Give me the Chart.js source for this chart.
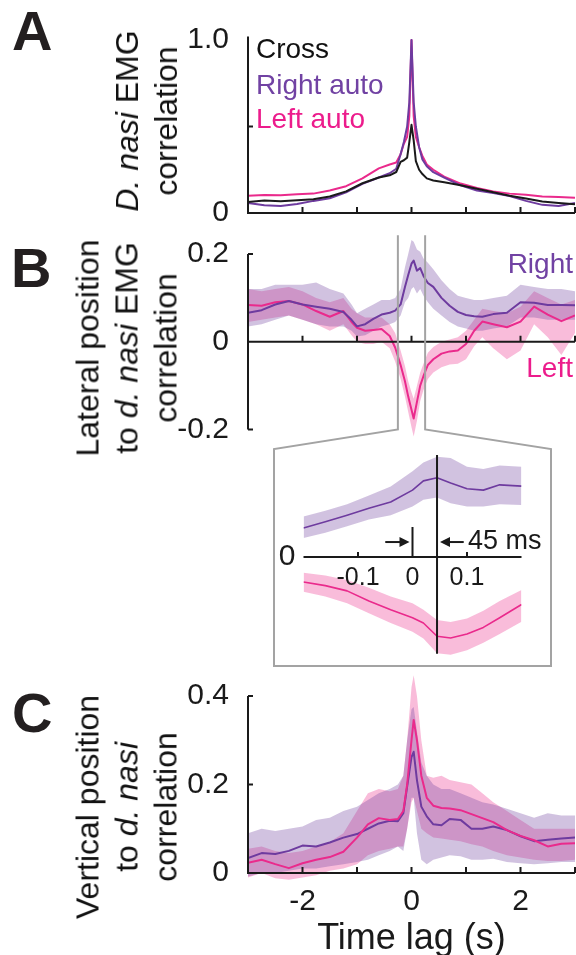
<!DOCTYPE html>
<html>
<head>
<meta charset="utf-8">
<script src="https://cdn.jsdelivr.net/npm/chart.js@4.4.1/dist/chart.umd.min.js"></script>
<style>
  body { margin: 0; background: #fff; }
  #fig { position: relative; width: 576px; height: 955px; overflow: hidden;
         font-family: 'Liberation Sans', Arial, sans-serif; color: #111; }
  canvas { position: absolute; }
  .panel { position: absolute; font-weight: bold; font-size: 56px; line-height: 56px; color: #231f20; }
  .ylab { position: absolute; font-size: 32px; line-height: 39px; text-align: center;
          white-space: nowrap; transform: translate(-50%, -50%) rotate(-90deg); }
  .key { position: absolute; font-size: 28px; line-height: 28px; white-space: nowrap; }
</style>
</head>
<body>
<div id="fig">
  <canvas id="chartA" width="576" height="240" style="left:0;top:0"></canvas>
  <canvas id="chartB" width="576" height="460" style="left:0;top:210px"></canvas>
  <canvas id="chartIn" width="277" height="218" style="left:274px;top:449px"></canvas>
  <canvas id="chartC" width="576" height="310" style="left:0;top:645px"></canvas>

  <div class="panel" style="left:12px;top:3px">A</div>
  <div class="panel" style="left:11px;top:240px">B</div>
  <div class="panel" style="left:12px;top:685px">C</div>

  <div class="ylab" style="left:147px;top:121px"><div><i>D. nasi</i> EMG</div><div>correlation</div></div>
  <div class="ylab" style="left:127px;top:348px"><div>Lateral position</div><div>to <i>d. nasi</i> EMG</div><div>correlation</div></div>
  <div class="ylab" style="left:127px;top:807px"><div>Vertical position</div><div>to <i>d. nasi</i></div><div>correlation</div></div>

  <div class="key" style="left:256px;top:35px;color:#111">Cross</div>
  <div class="key" style="left:256px;top:71px;color:#7142a3">Right auto</div>
  <div class="key" style="left:256px;top:105px;color:#ec1c8c">Left auto</div>
  <div class="key" style="right:3px;top:250px;color:#7142a3">Right</div>
  <div class="key" style="right:3px;top:354px;color:#ec1c8c">Left</div>
</div>

<script>
// ---------- data ----------
const xTicks = [-3, -2, -1, 0, 1, 2, 3];
const xLabelsC = ['', '-2', '', '0', '', '2', ''];
const xTitle = 'Time lag (s)';

// A: D. nasi EMG correlations
const lagA = [-3, -2.7, -2.4, -2.1, -1.8, -1.5, -1.2, -0.9, -0.6, -0.4, -0.28, -0.2, -0.14, -0.08, -0.04, 0,
              0.04, 0.08, 0.14, 0.2, 0.28, 0.4, 0.6, 0.9, 1.2, 1.5, 1.8, 2.1, 2.4, 2.7, 3];
const crossA = [0.064, 0.072, 0.068, 0.073, 0.08, 0.095, 0.125, 0.172, 0.205, 0.218, 0.237, 0.296, 0.305, 0.32, 0.41, 0.51,
                0.42, 0.3, 0.25, 0.225, 0.2, 0.188, 0.178, 0.16, 0.14, 0.12, 0.1, 0.084, 0.066, 0.058, 0.05];
const rightA = [0.058, 0.045, 0.04, 0.052, 0.07, 0.085, 0.12, 0.168, 0.205, 0.23, 0.256, 0.34, 0.41, 0.5, 0.64, 1.0,
                0.64, 0.5, 0.38, 0.31, 0.27, 0.236, 0.205, 0.16, 0.13, 0.115, 0.098, 0.07, 0.047, 0.04, 0.058];
const leftA = [0.1, 0.104, 0.102, 0.108, 0.112, 0.13, 0.155, 0.2, 0.258, 0.28, 0.292, 0.34, 0.4, 0.44, 0.56, 1.0,
               0.56, 0.44, 0.38, 0.33, 0.28, 0.25, 0.21, 0.17, 0.145, 0.125, 0.112, 0.106, 0.096, 0.092, 0.088];
const yTicksA = [0, 1];
const yLabelsA = ['0', '1.0'];

// B: lateral position vs EMG
const lagB = [-3, -2.75, -2.5, -2.25, -2, -1.75, -1.5, -1.25, -1.1, -1, -0.85, -0.7, -0.55, -0.4, -0.3, -0.2, -0.12, -0.06, 0,
              0.04, 0.1, 0.16, 0.22, 0.3, 0.4, 0.55, 0.7, 0.85, 1, 1.15, 1.3, 1.5, 1.75, 2, 2.25, 2.5, 2.75, 3];
const rightB = [0.066, 0.072, 0.085, 0.093, 0.085, 0.08, 0.075, 0.068, 0.05, 0.035, 0.04, 0.052, 0.062, 0.066, 0.071, 0.085, 0.125, 0.152, 0.178,
                0.185, 0.162, 0.168, 0.15, 0.134, 0.125, 0.1, 0.082, 0.068, 0.061, 0.058, 0.057, 0.063, 0.066, 0.09, 0.089, 0.084, 0.084, 0.083];
const rightBHi = [0.12, 0.12, 0.13, 0.13, 0.13, 0.135, 0.12, 0.11, 0.085, 0.065, 0.075, 0.085, 0.095, 0.095, 0.1, 0.12, 0.17, 0.2, 0.232,
                  0.228, 0.21, 0.205, 0.19, 0.18, 0.165, 0.14, 0.12, 0.105, 0.1, 0.095, 0.095, 0.1, 0.105, 0.13, 0.125, 0.12, 0.12, 0.115];
const rightBLo = [0.035, 0.04, 0.05, 0.06, 0.05, 0.04, 0.035, 0.035, 0.025, 0.012, 0.015, 0.025, 0.035, 0.04, 0.045, 0.06, 0.09, 0.1, 0.12,
                  0.125, 0.11, 0.12, 0.105, 0.09, 0.075, 0.06, 0.045, 0.035, 0.03, 0.025, 0.025, 0.03, 0.035, 0.055, 0.055, 0.05, 0.05, 0.05];
const leftB = [0.084, 0.082, 0.09, 0.093, 0.085, 0.07, 0.057, 0.07, 0.045, 0.032, 0.025, 0.027, 0.029, 0.013, -0.013, -0.053, -0.09, -0.125, -0.155,
               -0.175, -0.137, -0.1, -0.078, -0.053, -0.04, -0.027, -0.022, -0.02, -0.005, 0.025, 0.046, 0.04, 0.033, 0.046, 0.08, 0.062, 0.047, 0.06];
const leftBHi = [0.12, 0.115, 0.12, 0.125, 0.115, 0.1, 0.09, 0.1, 0.075, 0.065, 0.055, 0.055, 0.055, 0.04, 0.02, -0.02, -0.055, -0.09, -0.115,
                 -0.13, -0.1, -0.07, -0.05, -0.025, -0.012, 0.0, 0.005, 0.01, 0.025, 0.05, 0.075, 0.07, 0.065, 0.08, 0.115, 0.1, 0.085, 0.095];
const leftBLo = [0.045, 0.05, 0.055, 0.06, 0.05, 0.04, 0.025, 0.04, 0.015, 0.0, -0.005, -0.005, 0.0, -0.015, -0.045, -0.085, -0.125, -0.16, -0.195,
                 -0.216, -0.18, -0.135, -0.11, -0.085, -0.07, -0.058, -0.052, -0.05, -0.04, -0.01, 0.01, -0.015, -0.04, -0.02, 0.04, 0.01, -0.03, 0.02];
const yTicksB = [-0.2, 0, 0.2];
const yLabelsB = ['-0.2', '0', '0.2'];
const zoomLags = [-0.25, 0.25];

// B inset: zoom on +-0.2 s
const lagIn = [-0.2, -0.16, -0.12, -0.08, -0.04, 0, 0.02, 0.045, 0.07, 0.1, 0.13, 0.16, 0.2];
const rightIn = [0.066, 0.08, 0.095, 0.111, 0.125, 0.152, 0.173, 0.18, 0.168, 0.155, 0.152, 0.164, 0.161];
const rightInHi = [0.092, 0.105, 0.12, 0.14, 0.16, 0.195, 0.215, 0.228, 0.225, 0.205, 0.2, 0.208, 0.205];
const rightInLo = [0.043, 0.055, 0.07, 0.085, 0.095, 0.115, 0.13, 0.135, 0.122, 0.115, 0.115, 0.12, 0.118];
const leftIn = [-0.057, -0.065, -0.077, -0.1, -0.12, -0.138, -0.15, -0.18, -0.184, -0.175, -0.16, -0.138, -0.108];
const leftInHi = [-0.036, -0.042, -0.052, -0.07, -0.09, -0.105, -0.12, -0.143, -0.148, -0.14, -0.122, -0.1, -0.075];
const leftInLo = [-0.079, -0.09, -0.105, -0.128, -0.15, -0.17, -0.185, -0.219, -0.222, -0.212, -0.195, -0.175, -0.147];
const inTicks = [-0.1, 0, 0.1];
const inLabels = ['-0.1', '0', '0.1'];
const lagShift = 0.045;
const shiftLabel = '45 ms';

// C: vertical position vs EMG
const lagC = [-3, -2.75, -2.5, -2.25, -2, -1.75, -1.5, -1.25, -1, -0.8, -0.6, -0.4, -0.25, -0.15, -0.08, 0,
              0.04, 0.1, 0.18, 0.28, 0.4, 0.55, 0.7, 0.9, 1.1, 1.3, 1.5, 1.75, 2, 2.25, 2.5, 2.75, 3];
const rightC = [0.034, 0.045, 0.043, 0.05, 0.062, 0.06, 0.069, 0.08, 0.088, 0.1, 0.112, 0.118, 0.117, 0.135, 0.195, 0.262,
                0.274, 0.21, 0.15, 0.128, 0.11, 0.108, 0.122, 0.12, 0.1, 0.1, 0.105, 0.097, 0.083, 0.072, 0.075, 0.078, 0.08];
const rightCHi = [0.09, 0.1, 0.095, 0.1, 0.105, 0.12, 0.125, 0.14, 0.15, 0.165, 0.18, 0.19, 0.2, 0.22, 0.3, 0.37,
                  0.375, 0.32, 0.25, 0.22, 0.2, 0.19, 0.19, 0.18, 0.17, 0.16, 0.155, 0.145, 0.135, 0.125, 0.135, 0.13, 0.13];
const rightCLo = [-0.008, 0.0, 0.0, 0.005, 0.01, 0.01, 0.015, 0.02, 0.025, 0.03, 0.04, 0.05, 0.06, 0.05, 0.1, 0.17,
                  0.17, 0.09, 0.03, 0.02, 0.03, 0.035, 0.04, 0.038, 0.03, 0.03, 0.032, 0.025, 0.022, 0.02, 0.022, 0.025, 0.025];
const leftC = [0.023, 0.03, 0.02, 0.011, 0.022, 0.03, 0.036, 0.048, 0.08, 0.11, 0.124, 0.12, 0.122, 0.14, 0.2, 0.3,
               0.346, 0.3, 0.22, 0.17, 0.152, 0.147, 0.146, 0.142, 0.133, 0.124, 0.115, 0.097, 0.084, 0.074, 0.06, 0.066, 0.067];
const leftCHi = [0.055, 0.06, 0.05, 0.045, 0.05, 0.06, 0.07, 0.09, 0.14, 0.18, 0.19, 0.185, 0.19, 0.22, 0.3, 0.42,
                 0.447, 0.4, 0.3, 0.22, 0.215, 0.22, 0.21, 0.205, 0.2, 0.18, 0.16, 0.14, 0.12, 0.1, 0.1, 0.1, 0.1];
const leftCLo = [-0.01, 0.0, -0.012, -0.015, -0.01, -0.005, 0.005, 0.01, 0.02, 0.04, 0.05, 0.055, 0.06, 0.06, 0.1, 0.16,
                 0.17, 0.14, 0.1, 0.09, 0.08, 0.078, 0.075, 0.072, 0.065, 0.06, 0.05, 0.04, 0.035, 0.03, 0.027, 0.027, 0.03];
const yTicksC = [0, 0.2, 0.4];
const yLabelsC = ['0', '0.2', '0.4'];

// ---------- styling ----------
const FONT = "'Liberation Sans', Arial, sans-serif";
const INK = '#1a1a1a';
const PURPLE = '#6e3b9f';
const PINK = '#ea2a8c';
const PURPLE_BAND = 'rgba(112, 64, 160, 0.32)';
const PINK_BAND = 'rgba(236, 48, 140, 0.32)';
const FRAME = '#a3a3a3';
const TICK_SIZE = 30;

const pts = (xs, ys) => xs.map((x, i) => ({x: x, y: ys[i]}));

function line(xs, ys, color, order, width) {
    return {data: pts(xs, ys), borderColor: color, borderWidth: width || 2, pointRadius: 0,
            fill: false, order: order, tension: 0, borderJoinStyle: 'round'};
}

function band(xs, hi, lo, color, order) {
    return [
        {data: pts(xs, hi), borderWidth: 0, pointRadius: 0, backgroundColor: color, fill: '+1', order: order},
        {data: pts(xs, lo), borderWidth: 0, pointRadius: 0, fill: false, order: order}
    ];
}

// padding so that value vA sits at page pixel pA and vB at pB
function frame(canvasTop, canvasH, yMin, yMax, vA, pA, vB, pB) {
    const k = (pA - pB) / (vB - vA);
    return {
        top: pA - (yMax - vA) * k - canvasTop,
        bottom: canvasTop + canvasH - (pA + (vA - yMin) * k)
    };
}

function yScale(min, max, ticks, labels) {
    return {
        type: 'linear', min: min, max: max,
        grid: {display: false}, border: {display: false},
        ticks: {font: {family: FONT, size: TICK_SIZE}, color: INK, padding: 11, autoSkip: false,
                callback: (v, i) => labels[i]},
        afterBuildTicks: s => { s.ticks = ticks.map(v => ({value: v})); },
        afterFit: s => { s.width = 248; s.paddingTop = 0; s.paddingBottom = 0; }
    };
}

function xHidden(min, max) {
    return {
        type: 'linear', min: min, max: max,
        grid: {display: false}, border: {display: false}, ticks: {display: false},
        afterFit: s => { s.height = 0; s.paddingLeft = 0; s.paddingRight = 0; }
    };
}

function axesPlugin(a) {
    return {
        id: 'axes',
        afterDatasetsDraw(chart) {
            const {ctx, scales: {x, y}} = chart;
            const xl = x.getPixelForValue(x.min), xr = x.getPixelForValue(x.max);
            const ya = y.getPixelForValue(a.xAxisAt);
            ctx.save();
            ctx.strokeStyle = INK;
            ctx.lineWidth = 2;
            ctx.beginPath();
            ctx.moveTo(xl, y.getPixelForValue(a.yFrom));
            ctx.lineTo(xl, y.getPixelForValue(a.yTo));
            ctx.moveTo(xl - 1, ya);
            ctx.lineTo(xr, ya);
            a.yMarks.forEach(v => {
                const p = y.getPixelForValue(v);
                ctx.moveTo(xl, p); ctx.lineTo(xl + 5, p);
            });
            a.xMarks.forEach(v => {
                const p = x.getPixelForValue(v);
                ctx.moveTo(p, ya); ctx.lineTo(p, ya - 6);
            });
            ctx.stroke();
            if (a.extra) a.extra(chart);
            ctx.restore();
        }
    };
}

function makeChart(id, datasets, padding, scales, plugin) {
    return new Chart(document.getElementById(id), {
        type: 'line',
        data: {datasets: datasets},
        options: {
            responsive: false,
            animation: false,
            events: [],
            layout: {padding: padding},
            plugins: {legend: {display: false}, tooltip: {enabled: false}},
            scales: scales
        },
        plugins: [plugin]
    });
}

function arrow(ctx, from, to, yy) {
    const dir = Math.sign(to - from);
    ctx.beginPath();
    ctx.moveTo(from, yy);
    ctx.lineTo(to - dir * 8, yy);
    ctx.stroke();
    ctx.beginPath();
    ctx.moveTo(to, yy);
    ctx.lineTo(to - dir * 10, yy - 5);
    ctx.lineTo(to - dir * 10, yy + 5);
    ctx.closePath();
    ctx.fill();
}

document.addEventListener('DOMContentLoaded', function() {
    Chart.defaults.font.family = FONT;

    // ----- A -----
    const fa = frame(0, 240, -0.03, 1.03, 0, 213, 1, 40);
    makeChart('chartA', [
        line(lagA, crossA, INK, 1),
        line(lagA, rightA, PURPLE, 2),
        line(lagA, leftA, PINK, 3)
    ], {top: fa.top, bottom: fa.bottom, left: 0, right: 1}, {
        x: xHidden(-3, 3),
        y: yScale(-0.03, 1.03, yTicksA, yLabelsA)
    }, axesPlugin({xAxisAt: 0, yFrom: 0, yTo: 1.02, yMarks: [0.5], xMarks: xTicks.slice(1)}));

    // ----- B -----
    const B_TOP = 210;
    const fb = frame(B_TOP, 460, -0.24, 0.245, 0, 341.75, 0.2, 254);
    makeChart('chartB', [
        line(lagB, rightB, PURPLE, 1),
        line(lagB, leftB, PINK, 2),
        ...band(lagB, rightBHi, rightBLo, PURPLE_BAND, 5),
        ...band(lagB, leftBHi, leftBLo, PINK_BAND, 6)
    ], {top: fb.top, bottom: fb.bottom, left: 0, right: 1}, {
        x: xHidden(-3, 3),
        y: yScale(-0.24, 0.245, yTicksB, yLabelsB)
    }, axesPlugin({xAxisAt: 0, yFrom: -0.2, yTo: 0.2, yMarks: [-0.2, 0.2], xMarks: xTicks.slice(1),
        extra: function(chart) {
            const {ctx, scales: {x, y}} = chart;
            const xa = x.getPixelForValue(zoomLags[0]), xb = x.getPixelForValue(zoomLags[1]);
            const yt = y.getPixelForValue(0.243), yb = y.getPixelForValue(-0.2);
            const bt = 449 - B_TOP, bb = 666 - B_TOP;
            ctx.strokeStyle = FRAME;
            ctx.lineWidth = 2;
            ctx.beginPath();
            ctx.moveTo(xa, yt); ctx.lineTo(xa, yb); ctx.lineTo(274, bt);
            ctx.lineTo(274, bb); ctx.lineTo(551, bb); ctx.lineTo(551, bt);
            ctx.lineTo(xb, yb); ctx.lineTo(xb, yt);
            ctx.stroke();
        }}));

    // ----- B inset -----
    const fi = frame(449, 218, -0.245, 0.24, 0, 557, 0.2, 469);
    makeChart('chartIn', [
        line(lagIn, rightIn, PURPLE, 1, 1.6),
        line(lagIn, leftIn, PINK, 2, 1.6),
        ...band(lagIn, rightInHi, rightInLo, PURPLE_BAND, 5),
        ...band(lagIn, leftInHi, leftInLo, PINK_BAND, 6)
    ], {top: fi.top, bottom: fi.bottom, left: 29.5, right: 29.5}, {
        x: {type: 'linear', min: -0.2, max: 0.2, display: false},
        y: {type: 'linear', min: -0.245, max: 0.24, display: false}
    }, {
        id: 'insetAxes',
        afterDatasetsDraw(chart) {
            const {ctx, scales: {x, y}} = chart;
            const y0 = y.getPixelForValue(0);
            const pz = x.getPixelForValue(0), ps = x.getPixelForValue(lagShift);
            ctx.save();
            ctx.strokeStyle = INK;
            ctx.fillStyle = INK;
            ctx.lineWidth = 2;
            ctx.beginPath();
            ctx.moveTo(x.getPixelForValue(x.min), y0);
            ctx.lineTo(x.getPixelForValue(x.max), y0);
            inTicks.forEach(v => {
                const p = x.getPixelForValue(v);
                ctx.moveTo(p, y0); ctx.lineTo(p, y0 - 5);
            });
            ctx.moveTo(ps, y.getPixelForValue(0.232));
            ctx.lineTo(ps, y.getPixelForValue(-0.22));
            ctx.moveTo(pz, y0);
            ctx.lineTo(pz, y.getPixelForValue(0.068));
            ctx.stroke();

            const ya = y.getPixelForValue(0.034);
            arrow(ctx, x.getPixelForValue(-0.05), pz - 3, ya);
            arrow(ctx, x.getPixelForValue(0.094), ps + 3, ya);

            ctx.textBaseline = 'middle';
            ctx.font = '27px ' + FONT;
            ctx.textAlign = 'left';
            ctx.fillText(shiftLabel, x.getPixelForValue(0.102), ya);
            ctx.font = '25px ' + FONT;
            ctx.textAlign = 'center';
            inTicks.forEach((v, i) => ctx.fillText(inLabels[i], x.getPixelForValue(v), y0 + 21));
            ctx.font = '30px ' + FONT;
            ctx.textAlign = 'right';
            ctx.fillText('0', x.getPixelForValue(x.min) - 8, y0);
            ctx.restore();
        }
    });

    // ----- C -----
    const fc = frame(645, 310, -0.02, 0.46, 0, 873, 0.4, 696);
    makeChart('chartC', [
        line(lagC, leftC, PINK, 1),
        line(lagC, rightC, PURPLE, 2),
        ...band(lagC, rightCHi, rightCLo, PURPLE_BAND, 5),
        ...band(lagC, leftCHi, leftCLo, PINK_BAND, 6)
    ], {top: fc.top, bottom: 0, left: 0, right: 1}, {
        x: {
            type: 'linear', min: -3, max: 3,
            grid: {display: false}, border: {display: false},
            ticks: {font: {family: FONT, size: TICK_SIZE}, color: INK, padding: -6, autoSkip: false, maxRotation: 0,
                    callback: (v, i) => xLabelsC[i]},
            afterBuildTicks: s => { s.ticks = xTicks.map(v => ({value: v})); },
            title: {display: true, text: xTitle, color: INK, font: {family: FONT, size: 36},
                    padding: {top: 0, bottom: -6}},
            afterFit: s => { s.height = fc.bottom; s.paddingLeft = 0; s.paddingRight = 0; }
        },
        y: yScale(-0.02, 0.46, yTicksC, yLabelsC)
    }, axesPlugin({xAxisAt: 0, yFrom: 0, yTo: 0.4, yMarks: [0.2, 0.4], xMarks: xTicks.slice(1)}));
});
</script>
</body>
</html>
